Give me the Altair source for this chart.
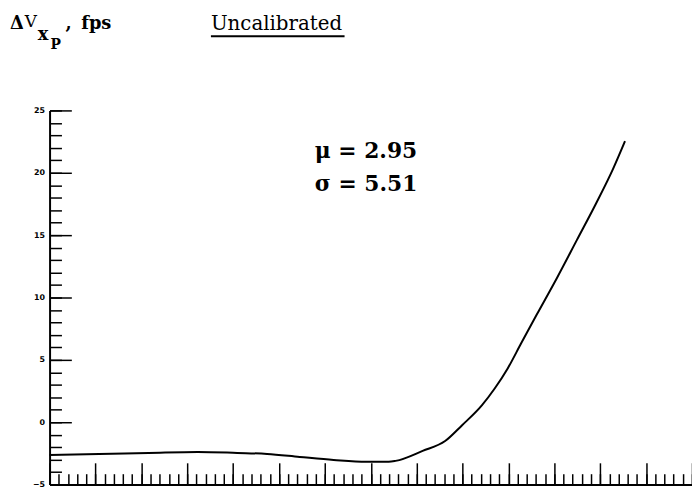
import altair as alt
import pandas as pd

# curve (x in major-division units, y in fps)
x_vals = [0, 1.08, 2.16, 3.23, 4.09, 4.74, 5.45, 6.19, 6.90, 7.39, 7.54, 8.13, 8.62,
          8.99, 9.42, 9.70, 9.98, 10.28, 10.62, 11.06, 11.49, 11.92, 12.28, 12.54]
y_vals = [-2.62, -2.54, -2.46, -2.38, -2.46, -2.54, -2.78, -3.02, -3.17, -3.17, -3.10, -2.30, -1.51,
          -0.24, 1.35, 2.70, 4.29, 6.35, 8.65, 11.59, 14.60, 17.62, 20.32, 22.54]

y_labels = [-5, 0, 5, 10, 15, 20, 25]
y_minor = list(range(-5, 26))
x_major = list(range(0, 15))
x_minor = [round(i * 0.2, 1) for i in range(0, 71)]

stats = ["μ = 2.95", "σ = 5.51"]
title_main = "Uncalibrated"

W, H = 649, 378
FONT = "DejaVu Serif"

df = pd.DataFrame({"t": x_vals, "v": y_vals})
xs = alt.Scale(domain=[0, 14], nice=False, zero=False)
ys = alt.Scale(domain=[-5, 25], nice=False, zero=False)

line = alt.Chart(df).mark_line(color="black", strokeWidth=2, interpolate="monotone").encode(
    x=alt.X("t:Q", scale=xs, axis=alt.Axis(orient="top", offset=-H, values=x_major, tickSize=22,
                                             tickWidth=1.5, tickColor="black", labels=False, title=None,
                                             domain=True, domainWidth=2, domainColor="black", grid=False)),
    y=alt.Y("v:Q", scale=ys, axis=alt.Axis(orient="left", values=y_labels, tickSize=0, labelFontSize=8,
                                             labelFont="DejaVu Sans", labelFontWeight="bold", labelColor="black",
                                             labelPadding=5, domainWidth=2, domainColor="black", title=None,
                                             grid=False)),
)

ticks1 = alt.Chart(df).mark_point(opacity=0).encode(
    x=alt.X("t:Q", scale=xs, axis=alt.Axis(orient="top", offset=-H, values=x_minor, tickSize=11,
                                             tickWidth=1.5, tickColor="black", labels=False, title=None,
                                             domain=False, grid=False)),
    y=alt.Y("v:Q", scale=ys, axis=alt.Axis(orient="right", offset=-W, values=y_labels, tickSize=22,
                                             tickWidth=1.5, tickColor="black", labels=False, title=None,
                                             domain=False, grid=False)),
)

ticks2 = alt.Chart(df).mark_point(opacity=0).encode(
    x=alt.X("t:Q", scale=xs, axis=None),
    y=alt.Y("v:Q", scale=ys, axis=alt.Axis(orient="right", offset=-W, values=y_minor, tickSize=12,
                                             tickWidth=1.5, tickColor="black", labels=False, title=None,
                                             domain=False, grid=False)),
)


def txt(s, x, y, size, weight="normal", font=FONT):
    return alt.Chart(pd.DataFrame({"s": [s]})).mark_text(
        align="left", baseline="alphabetic", font=font, fontSize=size, fontWeight=weight, color="black"
    ).encode(x=alt.value(x), y=alt.value(y), text="s:N")


texts = [
    txt("Δ", -40, -82, 18, "bold"),
    txt("V", -25, -84, 17),
    txt("x", -12, -71, 18, "bold"),
    txt("P", 1, -62, 14, "bold"),
    txt(",", 16, -82, 18, "bold"),
    txt("fps", 32, -82, 18, "bold"),
    txt(title_main, 163, -81, 20),
    txt(stats[0], 268, 48, 22, "bold"),
    txt(stats[1], 268, 81, 22, "bold"),
]

underline = alt.Chart(pd.DataFrame({"s": [title_main]})).mark_rule(color="black", strokeWidth=2).encode(
    x=alt.value(163), x2=alt.value(298), y=alt.value(-75)
)

chart = alt.layer(line, ticks1, ticks2, underline, *texts).resolve_axis(
    x="independent", y="independent"
).properties(
    width=W, height=H,
    autosize=alt.AutoSizeParams(type="none"),
    padding={"left": 42, "top": 101, "right": 0, "bottom": 4},
    background="white",
).configure_view(stroke=None)

chart.save("out.html", embed_options={"renderer": "svg", "actions": False})
